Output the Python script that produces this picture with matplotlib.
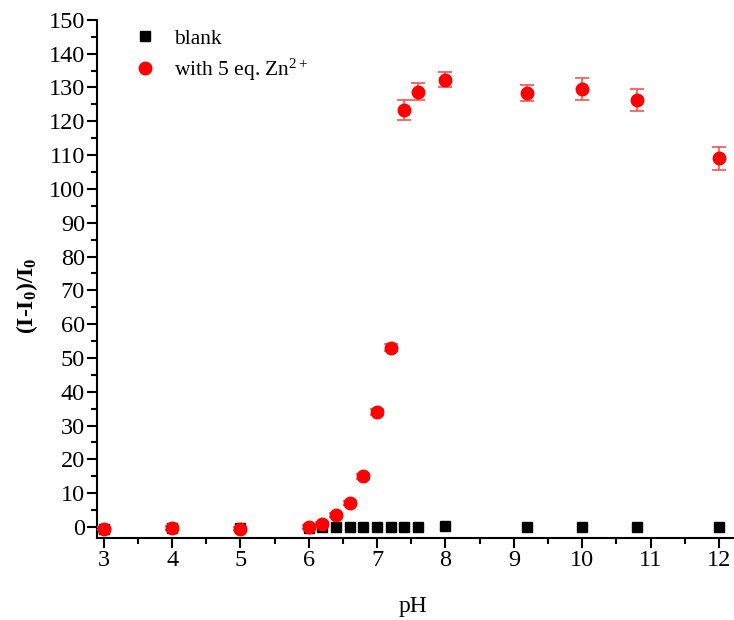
import matplotlib
matplotlib.use('Agg')
import matplotlib.pyplot as plt
from matplotlib.ticker import MultipleLocator

# pH values and responses
ph = [3, 4, 5, 6, 6.2, 6.4, 6.6, 6.8, 7.0, 7.2, 7.4, 7.6, 8, 9.2, 10, 10.8, 12]
blank = [-0.5, -0.3, -0.4, -0.2, -0.1, 0, 0, 0, 0, 0, 0, 0, 0.2, 0, 0.1, 0.1, 0]
zn = [-0.5, -0.3, -0.5, 0, 1.0, 3.5, 7.0, 15.0, 34.0, 53.0, 123.3, 128.8, 132.3, 128.3, 129.5, 126.3, 109.0]
zn_err = [0.5, 0.5, 0.5, 0.5, 0.5, 0.5, 0.6, 0.8, 1.0, 1.0, 3.0, 2.6, 2.2, 2.4, 3.3, 3.2, 3.3]

plt.rcParams['font.family'] = ['Liberation Serif', 'DejaVu Serif']
plt.rcParams['mathtext.fontset'] = 'custom'
plt.rcParams['mathtext.rm'] = 'Liberation Serif'
plt.rcParams['mathtext.bf'] = 'Liberation Serif:bold'
plt.rcParams['mathtext.it'] = 'Liberation Serif:italic'

fig = plt.figure(figsize=(7.34, 6.2), dpi=100)
ax = fig.add_axes([0.132, 0.132, 0.866, 0.836])

ax.plot(ph, blank, 's', color='black', markersize=7, label='blank', zorder=3)
ax.errorbar(ph, zn, yerr=zn_err, fmt='none', ecolor='#ff5050',
            elinewidth=1.2, capsize=5, capthick=1.2, zorder=4)
ax.plot(ph, zn, 'o', color='red', markersize=9, label='with 5 eq. Zn$^{2+}$', zorder=5)

ax.set_xlim(2.9, 12.2)
ax.set_ylim(-3.3, 150)
ax.xaxis.set_major_locator(MultipleLocator(1))
ax.xaxis.set_minor_locator(MultipleLocator(0.5))
ax.yaxis.set_major_locator(MultipleLocator(10))
ax.yaxis.set_minor_locator(MultipleLocator(5))

for s in ['top', 'right']:
    ax.spines[s].set_visible(False)
for s in ['left', 'bottom']:
    ax.spines[s].set_linewidth(1.5)
ax.tick_params(which='major', direction='out', length=7, width=1.5, labelsize=17.5, pad=1.5)
ax.tick_params(which='minor', direction='out', length=4, width=1.5)

ax.set_xlabel('pH', fontsize=17, va='top')
ax.xaxis.set_label_coords(0.497, -0.112)
ax.set_ylabel(r'(I-I$_\mathbf{0}$)/I$_\mathbf{0}$', fontsize=17, fontweight='bold')
ax.yaxis.set_label_coords(-0.09, 0.467)

ax.legend(loc='upper left', bbox_to_anchor=(0.02, 1.02), frameon=False, fontsize=15.5,
          handletextpad=0.6, labelspacing=0.35, handlelength=1.5)

fig.savefig('out.png', dpi=100)
